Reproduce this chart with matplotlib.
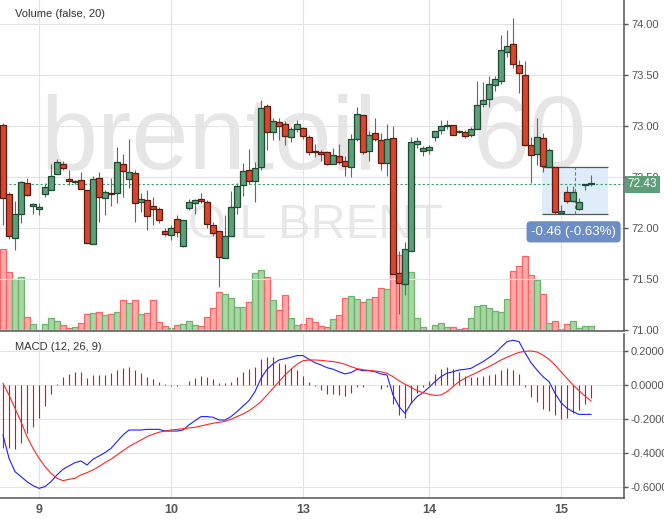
import matplotlib
matplotlib.use('Agg')
import matplotlib.pyplot as plt
import matplotlib.transforms as mtransforms
from matplotlib.patches import Rectangle
from matplotlib.ticker import FormatStrFormatter

plt.rcParams['font.family'] = ['Liberation Sans', 'DejaVu Sans']
plt.rcParams['axes.unicode_minus'] = False

# hourly Brent candles
opens = [73.01, 72.33, 71.90, 72.14, 72.44, 72.22, 72.19, 72.33, 72.37, 72.53,
         72.63, 72.48, 72.45, 72.47, 72.37, 71.84, 72.49, 72.29, 72.34, 72.34,
         72.63, 72.48, 72.54, 72.25, 72.27, 72.22, 72.19, 71.97, 71.93, 72.09,
         71.82, 72.20, 72.24, 72.28, 72.25, 72.03, 71.97, 71.71, 71.92, 72.21,
         72.42, 72.57, 72.46, 72.60, 73.20, 72.94, 73.04, 73.02, 72.89, 72.97,
         72.98, 72.89, 72.75, 72.74, 72.74, 72.63, 72.71, 72.66, 72.60, 72.87,
         73.11, 72.75, 72.93, 72.86, 72.64, 72.88, 71.56, 71.45, 71.77, 72.82,
         72.75, 72.76, 72.89, 72.96, 73.00, 73.01, 72.94, 72.94, 72.91, 72.97,
         73.22, 73.26, 73.40, 73.44, 73.73, 73.80, 73.60, 73.50, 72.81, 72.73,
         72.88, 72.60, 72.60, 72.15, 72.35, 72.26, 72.19, 72.42, 72.43]
highs = [73.03, 72.35, 72.26, 72.46, 72.49, 72.24, 72.24, 72.44, 72.63, 72.68,
         72.66, 72.57, 72.47, 72.55, 72.37, 72.51, 72.55, 72.37, 72.49, 72.79,
         72.73, 72.87, 72.57, 72.34, 72.37, 72.30, 72.21, 72.00, 72.03, 72.13,
         72.08, 72.28, 72.28, 72.34, 72.27, 72.06, 71.97, 72.13, 72.36, 72.44,
         72.64, 72.77, 72.65, 73.25, 73.22, 73.08, 73.08, 73.05, 72.99, 73.06,
         72.99, 72.91, 72.82, 72.76, 72.75, 72.78, 72.82, 72.71, 72.92, 73.19,
         73.11, 72.95, 73.08, 72.93, 73.02, 73.00, 71.77, 71.86, 72.89, 72.89,
         72.80, 72.81, 72.95, 73.06, 73.06, 73.01, 72.96, 72.96, 72.99, 73.44,
         73.43, 73.49, 73.49, 73.89, 73.94, 74.06, 73.65, 73.64, 72.89, 73.08,
         72.93, 72.78, 72.60, 72.23, 72.41, 72.41, 72.29, 72.43, 72.52]
lows = [72.03, 71.89, 71.78, 72.05, 72.31, 72.14, 72.13, 72.30, 72.37, 72.53,
        72.57, 72.42, 72.43, 72.38, 71.85, 71.84, 72.06, 72.13, 72.22, 72.24,
        72.30, 72.39, 72.06, 72.16, 71.98, 72.03, 72.05, 71.92, 71.88, 71.91,
        71.81, 72.18, 72.14, 72.24, 72.00, 71.92, 71.42, 71.71, 71.92, 72.14,
        72.31, 72.43, 72.25, 72.57, 72.76, 72.86, 72.86, 72.81, 72.84, 72.94,
        72.87, 72.72, 72.70, 72.66, 72.62, 72.63, 72.63, 72.51, 72.50, 72.85,
        72.73, 72.66, 72.85, 72.57, 72.51, 71.55, 71.16, 71.34, 71.77, 72.78,
        72.71, 72.73, 72.85, 72.92, 72.97, 72.91, 72.93, 72.88, 72.89, 72.97,
        73.19, 73.19, 73.34, 73.41, 73.68, 73.57, 73.32, 72.80, 72.44, 72.62,
        72.55, 72.60, 72.14, 72.14, 72.24, 72.25, 72.18, 72.37, 72.41]
closes = [72.29, 71.92, 72.14, 72.45, 72.32, 72.23, 72.21, 72.40, 72.51, 72.65,
          72.59, 72.46, 72.46, 72.38, 71.85, 72.48, 72.30, 72.35, 72.33, 72.65,
          72.56, 72.55, 72.24, 72.28, 72.12, 72.19, 72.08, 71.94, 72.00, 71.96,
          72.08, 72.25, 72.27, 72.26, 72.04, 71.95, 71.72, 71.92, 72.21, 72.41,
          72.56, 72.46, 72.59, 73.18, 72.94, 73.05, 73.00, 72.90, 72.97, 73.02,
          72.90, 72.74, 72.74, 72.73, 72.63, 72.72, 72.65, 72.61, 72.87, 73.12,
          72.74, 72.91, 72.87, 72.64, 72.87, 71.55, 71.46, 71.79, 72.84, 72.85,
          72.78, 72.79, 72.95, 73.00, 73.01, 72.91, 72.95, 72.90, 72.97, 73.21,
          73.25, 73.41, 73.46, 73.74, 73.78, 73.61, 73.52, 72.81, 72.72, 72.89,
          72.61, 72.76, 72.16, 72.16, 72.26, 72.35, 72.25, 72.43, 72.43]
volumes = [8170, 5870, 5170, 5370, 1430, 670, 100, 670, 1270, 970,
           570, 270, 370, 770, 1670, 1770, 1870, 1570, 1670, 1870,
           3070, 2770, 3070, 1670, 1770, 3070, 870, 470, 270, 570,
           670, 970, 570, 470, 1370, 2270, 3870, 3670, 3270, 2370,
           2370, 2870, 5770, 6070, 5370, 3070, 2070, 3570, 1270, 570,
           670, 1270, 870, 470, 370, 1170, 1570, 3270, 3470, 3170,
           2870, 3170, 3370, 4270, 4170, 6470, 7570, 5870, 5870, 1270,
           370, 100, 570, 770, 370, 430, 200, 270, 1270, 2470,
           2570, 2270, 1970, 1870, 3170, 5970, 6470, 7470, 5570, 5070,
           3670, 770, 970, 200, 670, 970, 270, 470, 470]

# MACD (12, 26, 9)
macd = [-0.294, -0.431, -0.510, -0.539, -0.569, -0.592, -0.608, -0.598, -0.569, -0.529,
        -0.496, -0.476, -0.457, -0.447, -0.471, -0.437, -0.418, -0.398, -0.373, -0.333,
        -0.294, -0.265, -0.265, -0.265, -0.261, -0.261, -0.261, -0.271, -0.271, -0.271,
        -0.265, -0.235, -0.210, -0.186, -0.186, -0.190, -0.206, -0.206, -0.186, -0.157,
        -0.124, -0.092, -0.039, 0.039, 0.092, 0.124, 0.147, 0.155, 0.163, 0.173,
        0.173, 0.151, 0.131, 0.118, 0.102, 0.093, 0.078, 0.065, 0.073, 0.092,
        0.084, 0.084, 0.078, 0.065, 0.059, -0.059, -0.127, -0.167, -0.108, -0.069,
        -0.045, -0.014, 0.020, 0.049, 0.069, 0.078, 0.088, 0.092, 0.098, 0.118,
        0.137, 0.161, 0.186, 0.222, 0.255, 0.263, 0.255, 0.190, 0.131, 0.088,
        0.049, 0.020, -0.049, -0.104, -0.137, -0.157, -0.173, -0.173, -0.173]
signal = [0.010, -0.059, -0.137, -0.216, -0.304, -0.373, -0.431, -0.480, -0.520, -0.549,
          -0.563, -0.555, -0.549, -0.529, -0.516, -0.500, -0.480, -0.457, -0.437, -0.412,
          -0.386, -0.363, -0.343, -0.324, -0.304, -0.290, -0.278, -0.271, -0.265, -0.261,
          -0.257, -0.253, -0.249, -0.241, -0.233, -0.225, -0.220, -0.214, -0.202, -0.186,
          -0.171, -0.151, -0.127, -0.098, -0.059, -0.020, 0.020, 0.059, 0.092, 0.122,
          0.143, 0.147, 0.147, 0.145, 0.141, 0.138, 0.131, 0.122, 0.108, 0.096,
          0.090, 0.086, 0.082, 0.078, 0.069, 0.049, 0.025, 0.004, -0.014, -0.033,
          -0.045, -0.055, -0.061, -0.059, -0.039, -0.010, 0.020, 0.039, 0.057, 0.073,
          0.092, 0.108, 0.127, 0.147, 0.163, 0.178, 0.192, 0.198, 0.200, 0.194,
          0.176, 0.151, 0.118, 0.078, 0.039, 0.000, -0.033, -0.065, -0.094]
hist = [-0.372, -0.372, -0.378, -0.339, -0.284, -0.245, -0.192, -0.124, -0.053, 0.006,
        0.045, 0.067, 0.076, 0.076, 0.041, 0.061, 0.061, 0.061, 0.073, 0.088,
        0.100, 0.106, 0.088, 0.071, 0.047, 0.035, 0.018, 0.004, -0.006, -0.006,
        0.000, 0.024, 0.041, 0.055, 0.047, 0.033, 0.010, 0.010, 0.018, 0.047,
        0.078, 0.092, 0.106, 0.153, 0.167, 0.167, 0.127, 0.124, 0.100, 0.088,
        0.053, 0.018, -0.006, -0.029, -0.053, -0.051, -0.059, -0.065, -0.045, -0.010,
        -0.014, 0.000, 0.000, -0.024, -0.014, -0.112, -0.176, -0.192, -0.108, -0.049,
        -0.010, 0.025, 0.065, 0.094, 0.106, 0.092, 0.078, 0.055, 0.045, 0.049,
        0.055, 0.061, 0.067, 0.088, 0.100, 0.088, 0.067, -0.010, -0.069, -0.100,
        -0.141, -0.153, -0.176, -0.202, -0.192, -0.167, -0.147, -0.112, -0.075]

day_pos = [6, 28, 50, 71, 93]
day_labels = ['9', '10', '13', '14', '15']
price_ticks = [71.0, 71.5, 72.0, 72.5, 73.0, 73.5, 74.0]
macd_ticks = [0.2, 0.0, -0.2, -0.4, -0.6]
last_price = 72.43
measure_start, measure_end = 72.60, 72.14

GREEN, GREEN_EDGE = '#5c9f78', '#1d4a30'
RED, RED_EDGE = '#d8472d', '#5c1a0f'
GRID = '#e3e3e3'
AXC = '#555555'

W, H = 664, 519
fig = plt.figure(figsize=(W / 100, H / 100), dpi=100)
rect_main = [0, 1 - 331 / H, 624 / W, 331 / H]
rect_macd = [0, 1 - 498 / H, 624 / W, 164 / H]

ax_vol = fig.add_axes(rect_main)
ax = fig.add_axes(rect_main, sharex=ax_vol)
ax.patch.set_visible(False)
ax_m = fig.add_axes(rect_macd, sharex=ax)

x = list(range(len(closes)))
up = [c >= o for o, c in zip(opens, closes)]

# volume underneath
ax_vol.bar(x, volumes, width=1.0,
           color=['#a9d5a3' if u else '#ffa9a9' for u in up],
           edgecolor=['#6cb36c' if u else '#f26868' for u in up], linewidth=0.9)
ax_vol.set_ylim(0, 33100)
ax_vol.set_xlim(-0.5, 103.5)
ax_vol.axis('off')

# watermark
ax_vol.text(40 / W, 1 - 168 / H, 'brentoil', transform=fig.transFigure, fontsize=74,
            color='#e6e6e6', ha='left', va='baseline', zorder=0)
ax_vol.text(587 / W, 1 - 168 / H, '60', transform=fig.transFigure, fontsize=74,
            color='#e6e6e6', ha='right', va='baseline', zorder=0)
ax_vol.text(316 / W, 1 - 238 / H, 'OIL BRENT', transform=fig.transFigure, fontsize=35,
            color='#e8e8e8', ha='center', va='baseline', zorder=0)

# candles
ax.vlines(x, lows, highs, color='#666666', linewidth=0.8, zorder=2)
ax.bar(x, [max(abs(c - o), 0.012) for o, c in zip(opens, closes)],
       bottom=[min(o, c) for o, c in zip(opens, closes)], width=0.85,
       color=[GREEN if u else RED for u in up],
       edgecolor=[GREEN_EDGE if u else RED_EDGE for u in up], linewidth=0.9, zorder=3)

# measurement box
ax.add_patch(Rectangle((89.8, measure_end), 11.0, measure_start - measure_end,
                       facecolor='#dcebfb', edgecolor='none', alpha=0.9, zorder=1.5))
ax.hlines([measure_start, measure_end], 89.8, 100.8, color='#555555', linewidth=0.9, zorder=1.6)
ax.vlines(95.3, measure_end, measure_start, color='#777777', linewidth=0.8,
          linestyles=(0, (3, 2)), zorder=1.6)
chg = measure_end - measure_start
ax.text(95.1, 71.962, '%.2f (%.2f%%)' % (chg, chg / measure_start * 100), fontsize=9.5,
        color='white', ha='center', va='center', zorder=6,
        bbox=dict(boxstyle='round,pad=0.35,rounding_size=0.3', fc='#6b8ec7', ec='none'))

ax.axhline(last_price, color='#3e9a63', linewidth=0.8, linestyle=(0, (2, 2)), zorder=2.5)
trans = mtransforms.blended_transform_factory(ax.transAxes, ax.transData)
ax.text(1.006, last_price, '%.2f' % last_price, transform=trans, fontsize=8.5, color='white',
        ha='left', va='center', zorder=10, clip_on=False,
        bbox=dict(boxstyle='square,pad=0.22', fc='#5c9e78', ec='none'))

ax.set_ylim(70.99, 74.235)
ax.set_yticks(price_ticks)
ax.yaxis.set_major_formatter(FormatStrFormatter('%.2f'))
ax.yaxis.tick_right()
ax.set_xticks(day_pos)
ax.tick_params(axis='x', length=0, labelbottom=False)
ax.tick_params(axis='y', direction='out', length=3, width=1, color=AXC, pad=2,
               labelsize=8, labelcolor=AXC)
ax.grid(True, color=GRID, linewidth=0.8)
ax.set_axisbelow(True)
for s in ['top', 'left']:
    ax.spines[s].set_visible(False)
for s in ['right', 'bottom']:
    ax.spines[s].set_color(AXC)
    ax.spines[s].set_linewidth(1.1)

fig.text(15 / W, 1 - 14 / H, 'Volume (false, 20)', fontsize=8, color='#333333', va='center')

# MACD panel
ax_m.vlines(x, 0, hist, color='#e01010', linewidth=0.8, zorder=2)
ax_m.plot(x, macd, color='#1f1fff', linewidth=0.8, zorder=3)
ax_m.plot(x, signal, color='#ff2525', linewidth=0.8, zorder=3)
ax_m.set_ylim(-0.665, 0.3)
ax_m.set_yticks(macd_ticks)
ax_m.yaxis.set_major_formatter(FormatStrFormatter('%.4f'))
ax_m.yaxis.tick_right()
ax_m.set_xticks(day_pos)
ax_m.set_xticklabels(day_labels, fontweight='bold', fontsize=9, color=AXC)
ax_m.tick_params(axis='x', length=0, pad=4)
ax_m.tick_params(axis='y', direction='out', length=3, width=1, color=AXC, pad=2,
                 labelsize=8, labelcolor=AXC)
ax_m.grid(True, color=GRID, linewidth=0.8)
ax_m.set_axisbelow(True)
for s in ['top', 'left']:
    ax_m.spines[s].set_visible(False)
for s in ['right', 'bottom']:
    ax_m.spines[s].set_color(AXC)
    ax_m.spines[s].set_linewidth(1.1)

fig.text(15 / W, 1 - 347 / H, 'MACD (12, 26, 9)', fontsize=8, color='#333333', va='center')

fig.savefig('out.png', dpi=100, facecolor='white')
